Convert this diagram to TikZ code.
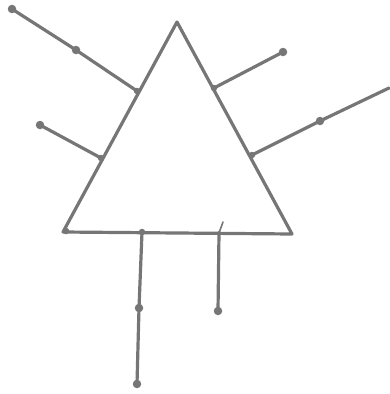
\documentclass[tikz,border=0pt]{standalone}
\begin{document}
\begin{tikzpicture}[x=1pt,y=-1pt,
  pen/.style={draw=penc,line width=3.2pt,line cap=round,line join=round},
  dotn/.style={circle,fill=penc,inner sep=0pt,minimum size=8.5pt},
  jdot/.style={circle,fill=penc,inner sep=0pt,minimum size=6.5pt}]
\definecolor{penc}{RGB}{118,118,118}
\useasboundingbox (0,0) rectangle (389,394);
% triangle corners
\coordinate (A) at (177,22);
\coordinate (B) at (63,232);
\coordinate (C) at (292,234);
% junctions
\node[jdot] (L1) at (137,91) {};
\node[jdot] (L2) at (101,158) {};
\node[jdot] (R1) at (214,88) {};
\node[jdot] (R2) at (252,155) {};
\node[jdot] (D1) at (142,232) {};
\node[jdot,minimum size=4pt] (D2) at (219,233) {};
\node[jdot] (BL) at (66,231) {};
% ends and mid dots
\node[dotn] (E1) at (12,9) {};
\node[dotn] (M1) at (76,50) {};
\node[dotn] (E2) at (40,125) {};
\node[dotn] (E3) at (283,52) {};
\node[dotn] (M4) at (320,121) {};
\coordinate (E4) at (389,88);
\node[dotn] (M5) at (139,308) {};
\node[dotn] (E5) at (137,384) {};
\node[dotn] (E6) at (218,311) {};
\coordinate (T) at (223,222);
\draw[pen] (A) -- (B) -- (C) -- cycle;
\draw[pen] (E1.center) -- (M1.center) -- (L1.center);
\draw[pen] (E2.center) -- (L2.center);
\draw[pen] (E3.center) -- (R1.center);
\draw[pen] (E4) -- (M4.center) -- (R2.center);
\draw[pen] (D1.center) -- (M5.center) -- (E5.center);
\draw[pen] (D2.center) -- (E6.center);
\draw[draw=penc,line width=1.6pt,line cap=round] (T) -- (D2.center);
\end{tikzpicture}
\end{document}
